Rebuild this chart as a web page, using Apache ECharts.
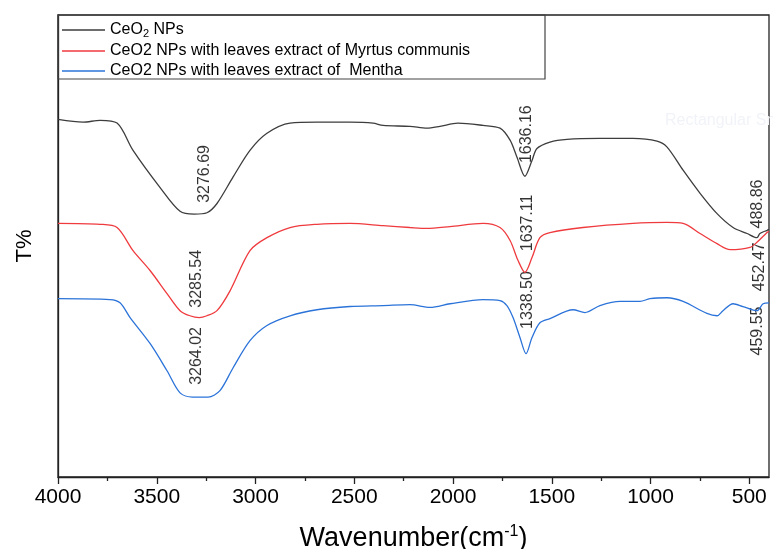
<!DOCTYPE html>
<html>
<head>
<meta charset="utf-8">
<title>FTIR</title>
<script src="https://cdn.jsdelivr.net/npm/echarts@6/dist/echarts.min.js"></script>
<style>
    html, body { margin: 0; padding: 0; background: #fff; }
    #myChart { width: 773px; height: 549px; }
</style>
</head>
<body>
<div id="myChart"></div>
<script>
    // wavenumber (cm-1) / transmittance
    const ceo2X = [4000, 3873, 3787, 3701, 3620, 3484, 3382, 3310, 3246, 3195, 3114, 3028, 2942, 2825, 2689, 2522, 2405, 2354, 2218, 2132, 2066, 1975, 1848, 1762, 1711, 1676, 1636, 1600, 1575, 1509, 1423, 1256, 1089, 967, 916, 835, 749, 663, 582, 511, 461, 446, 410, 400]
    const ceo2Y = [77.4, 76.8, 77.2, 76.6, 70.7, 62.7, 57.5, 56.9, 57.2, 59.2, 64.9, 70.7, 74.4, 76.6, 76.8, 76.8, 76.6, 76.1, 75.9, 75.5, 75.9, 76.6, 76.1, 75.5, 72.9, 69.2, 65.1, 68.5, 71.1, 72.5, 73.1, 73.3, 73.3, 72.7, 71.4, 66.4, 61.4, 57.0, 54.0, 52.7, 51.8, 52.7, 53.4, 53.6]

    const myrtusX = [4000, 3787, 3701, 3620, 3534, 3448, 3382, 3332, 3285, 3246, 3195, 3129, 3028, 2942, 2825, 2689, 2522, 2354, 2218, 2132, 2015, 1848, 1762, 1711, 1671, 1636, 1600, 1560, 1509, 1342, 1089, 916, 835, 749, 663, 597, 496, 461, 410, 400]
    const myrtusY = [54.9, 54.7, 54.0, 49.0, 44.7, 39.7, 36.0, 34.9, 34.5, 34.9, 36.0, 40.3, 49.0, 51.8, 54.0, 54.7, 54.9, 54.4, 54.0, 53.8, 54.2, 54.9, 54.0, 51.2, 46.9, 44.3, 47.5, 51.8, 52.9, 54.0, 54.9, 55.1, 54.9, 52.7, 50.5, 49.2, 49.7, 50.8, 52.9, 53.2]

    const menthaX = [4000, 3737, 3686, 3635, 3534, 3448, 3382, 3320, 3240, 3180, 3114, 3028, 2942, 2825, 2689, 2522, 2354, 2218, 2116, 2015, 1848, 1762, 1727, 1696, 1661, 1630, 1600, 1560, 1509, 1392, 1332, 1256, 1154, 1053, 1003, 916, 835, 714, 663, 633, 582, 532, 461, 430, 400]
    const menthaY = [38.6, 38.4, 37.7, 34.5, 28.9, 23.0, 18.2, 17.3, 17.3, 18.7, 23.6, 29.5, 32.8, 34.9, 36.2, 36.9, 37.1, 37.3, 36.7, 37.5, 38.4, 38.2, 37.1, 34.5, 30.2, 26.7, 30.2, 33.4, 34.3, 36.2, 35.6, 37.1, 38.0, 38.0, 38.6, 38.8, 38.0, 35.4, 34.9, 36.0, 37.5, 36.9, 36.0, 37.5, 37.7]

    const seriesNames = ['CeO2 NPs', 'CeO2 NPs with leaves extract of Myrtus communis', 'CeO2 NPs with leaves extract of  Mentha']
    const seriesColors = ['#3d3d3d', '#ef3a3e', '#2b73d9']

    // peak annotations
    const peakText = ['3276.69', '3285.54', '3264.02', '1636.16', '1637.11', '1338.50', '488.86', '452.47', '459.55']
    const peakX = [3256, 3296, 3296, 1625, 1620, 1620, 456, 446, 456]
    const peakY = [65.6, 42.9, 26.2, 74.2, 55.0, 38.3, 59.1, 45.5, 31.6]

    const majorTicks = [4000, 3500, 3000, 2500, 2000, 1500, 1000, 500]
    const minorTicks = [3750, 3250, 2750, 2250, 1750, 1250, 750]

    function pairs(xs, ys) {
        return xs.map((x, i) => [x, ys[i]])
    }

    let myChart = echarts.init(document.getElementById('myChart'))
    const font = 'Arial, "Liberation Sans", sans-serif'

    let lines = [ [ceo2X, ceo2Y], [myrtusX, myrtusY], [menthaX, menthaY] ].map((d, i) => ({
        name: seriesNames[i],
        type: 'line',
        symbol: 'none',
        smooth: 0.3,
        data: pairs(d[0], d[1]),
        lineStyle: { color: seriesColors[i], width: 1.3 },
        itemStyle: { color: seriesColors[i] }
    }))

    myChart.setOption({
        animation: false,
        textStyle: { fontFamily: font },
        grid: {
            left: 58,
            right: 4,
            top: 15,
            bottom: 72,
            outerBoundsMode: 'none',
            show: true,
            borderColor: '#222',
            borderWidth: 1.3
        },
        legend: {
            orient: 'vertical',
            left: 58,
            top: 21,
            padding: [0, 0, 0, 4],
            icon: 'rect',
            itemWidth: 43,
            itemHeight: 1.5,
            itemGap: 4,
            data: seriesNames,
            textStyle: {
                color: '#000',
                fontSize: 16,
                lineHeight: 16,
                rich: {
                    a: { fontSize: 16, lineHeight: 16, color: '#000' },
                    sub: { fontSize: 11, lineHeight: 16, color: '#000', padding: [7, 0, 0, 0] }
                }
            },
            formatter: function (name) {
                if (name === seriesNames[0]) {
                    return '{a|CeO}{sub|2}{a| NPs}'
                }
                return name
            }
        },
        graphic: [{
            type: 'rect',
            shape: { x: 58, y: 15, width: 487, height: 64 },
            style: { fill: 'none', stroke: '#444', lineWidth: 1.2 },
            z: 100
        }, {
            type: 'text',
            left: 665,
            top: 113,
            style: { text: 'Rectangular Snip', fill: '#f1f3f8', fontSize: 16, fontFamily: font }
        }],
        xAxis: [{
            type: 'value',
            min: 400,
            max: 4000,
            inverse: true,
            name: '{a|Wavenumber(cm}{sup|-1}{a|)}',
            nameLocation: 'middle',
            nameGap: 47,
            nameTextStyle: {
                rich: {
                    a: { fontSize: 27, color: '#000' },
                    sup: { fontSize: 16, color: '#000', padding: [0, 0, 13, 0] }
                }
            },
            splitLine: { show: false },
            axisLine: { show: true, lineStyle: { color: '#222', width: 1.3 } },
            axisTick: {
                show: true,
                length: 7,
                customValues: majorTicks,
                lineStyle: { color: '#222', width: 1.3 }
            },
            axisLabel: {
                customValues: majorTicks,
                fontSize: 21,
                color: '#000',
                margin: 10,
                formatter: v => String(v)
            }
        }, {
            type: 'value',
            min: 400,
            max: 4000,
            inverse: true,
            position: 'bottom',
            splitLine: { show: false },
            axisLine: { show: false },
            axisTick: {
                show: true,
                length: 4,
                customValues: minorTicks,
                lineStyle: { color: '#222', width: 1.3 }
            },
            axisLabel: { show: false }
        }],
        yAxis: {
            type: 'value',
            min: 0,
            max: 100,
            name: 'T%',
            nameLocation: 'middle',
            nameRotate: 90,
            nameGap: 22,
            nameTextStyle: { fontSize: 22, color: '#000' },
            splitLine: { show: false },
            axisTick: { show: false },
            axisLabel: { show: false },
            axisLine: { show: true, lineStyle: { color: '#222', width: 1.3 } }
        },
        series: lines.concat([{
            type: 'scatter',
            symbolSize: 0,
            silent: true,
            data: peakX.map((x, i) => [x, peakY[i], peakText[i]]),
            label: {
                show: true,
                position: 'inside',
                rotate: 90,
                fontSize: 16,
                color: '#000',
                formatter: p => p.value[2]
            }
        }])
    })
</script>
</body>
</html>
